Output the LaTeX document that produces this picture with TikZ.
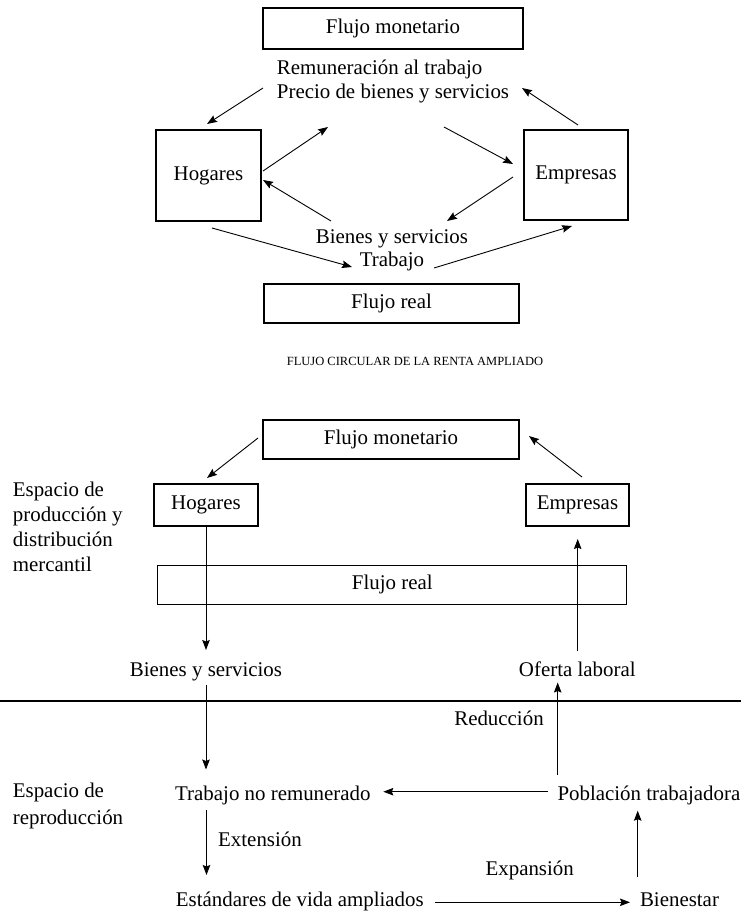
\documentclass[tikz,border=0pt]{standalone}
\usepackage{fontspec}
\setmainfont{Liberation Serif}
\usetikzlibrary{arrows.meta}
\begin{document}
\begin{tikzpicture}[x=1pt,y=-1pt,
  every node/.style={font=\fontsize{20.9}{24}\selectfont},
  box/.style={draw, line width=1.1pt, inner sep=0pt},
  lbl/.style={inner sep=0pt},
  arr/.style={-{Stealth[length=10pt,width=7.5pt,inset=1.5pt]}, line width=0.9pt},
  ln/.style={line width=0.9pt}]
\useasboundingbox (0,0) rectangle (741,911);
% ---------- top diagram ----------
\node[box, minimum width=260pt, minimum height=41pt] (fm1) at (393,28.5) {Flujo monetario};
\node[lbl, align=left] (lab1) at (393,81) {Remuneración al trabajo\\Precio de bienes y servicios};
\node[box, minimum width=105pt, minimum height=91pt] (hog1) at (208.5,175.5) {Hogares};
\node[box, minimum width=104pt, minimum height=90pt] (emp1) at (576,175) {Empresas};
\node[lbl] (lab2) at (392,238.5) {Bienes y servicios};
\node[lbl] (lab3) at (392,261.5) {Trabajo};
\node[box, minimum width=255pt, minimum height=39pt] (fr1) at (391.5,303.5) {Flujo real};
\coordinate (a1s) at (263,88);   \coordinate (a1e) at (207,124);
\coordinate (a2s) at (263,171);  \coordinate (a2e) at (328,127);
\coordinate (a3s) at (444,127);  \coordinate (a3e) at (513,164);
\coordinate (a4s) at (513,177);  \coordinate (a4e) at (447,221);
\coordinate (a5s) at (331,221);  \coordinate (a5e) at (263,180);
\coordinate (a6s) at (212,228);  \coordinate (a6e) at (352,267);
\coordinate (a7s) at (434,268);  \coordinate (a7e) at (572,226);
\coordinate (a8s) at (578,125);  \coordinate (a8e) at (522,88);
\draw[arr] (a1s) -- (a1e);
\draw[arr] (a2s) -- (a2e);
\draw[arr] (a3s) -- (a3e);
\draw[arr] (a4s) -- (a4e);
\draw[arr] (a5s) -- (a5e);
\draw[arr] (a6s) -- (a6e);
\draw[arr] (a7s) -- (a7e);
\draw[arr] (a8s) -- (a8e);
% ---------- caption ----------
\node[lbl, font=\fontsize{12.5}{15}\selectfont] (cap) at (415,361) {FLUJO CIRCULAR DE LA RENTA AMPLIADO};
% ---------- bottom diagram ----------
\node[box, minimum width=256pt, minimum height=39pt] (fm2) at (391,439.5) {Flujo monetario};
\node[box, minimum width=104pt, minimum height=42pt] (hog2) at (206,505) {Hogares};
\node[box, minimum width=103pt, minimum height=42pt] (emp2) at (577.5,505) {Empresas};
\node[box, minimum width=469pt, minimum height=39pt] (fr2) at (392.3,584.7) {Flujo real};
\node[lbl, align=left, anchor=north west, font=\fontsize{20.9}{25}\selectfont] (esp1) at (12.7,482) {Espacio de\\producción y\\distribución\\mercantil};
\node[lbl, anchor=base] (bys) at (206,676) {Bienes y servicios};
\node[lbl, anchor=base] (ofl) at (577.3,676.5) {Oferta laboral};
\node[lbl, anchor=base] (red) at (499,725.5) {Reducción};
\coordinate (hl1) at (0,700.7); \coordinate (hl2) at (741,700.7);
\draw[line width=2pt] (hl1) -- (hl2);
\node[lbl, anchor=base] (tnr) at (272.9,800.5) {Trabajo no remunerado};
\node[lbl, anchor=base] (pob) at (648.9,800.2) {Población trabajadora};
\node[lbl, align=left, anchor=north west, font=\fontsize{20.9}{26.5}\selectfont] (esp2) at (12.7,783) {Espacio de\\reproducción};
\node[lbl, anchor=base] (ext) at (260,846) {Extensión};
\node[lbl, anchor=base] (expn) at (529.7,875) {Expansión};
\node[lbl, anchor=base west] (est) at (175.7,906.7) {Estándares de vida ampliados};
\node[lbl, anchor=base] (bien) at (679.5,906.7) {Bienestar};
\coordinate (b1s) at (258,438);   \coordinate (b1e) at (207,478);
\coordinate (b2s) at (582,477);   \coordinate (b2e) at (529,436);
\coordinate (b3e) at (206,650);
\coordinate (b4s) at (206,685);   \coordinate (b4e) at (206,769.5);
\coordinate (b5s) at (577.7,651); \coordinate (b5e) at (577.7,539);
\coordinate (b6s) at (557.7,775); \coordinate (b6e) at (557.7,682.5);
\coordinate (b7s) at (547.7,791.7); \coordinate (b7e) at (383.3,791.7);
\coordinate (b8s) at (206.5,810); \coordinate (b8e) at (206.5,875);
\coordinate (b9s) at (435,902.3); \coordinate (b9e) at (630,902.3);
\coordinate (b10s) at (637.7,876.7); \coordinate (b10e) at (637.7,810.7);
\draw[arr] (b1s) -- (b1e);
\draw[arr] (b2s) -- (b2e);
\draw[arr] (hog2.south) -- (b3e);
\draw[arr] (b4s) -- (b4e);
\draw[arr] (b5s) -- (b5e);
\draw[arr] (b6s) -- (b6e);
\draw[arr] (b7s) -- (b7e);
\draw[arr] (b8s) -- (b8e);
\draw[arr] (b9s) -- (b9e);
\draw[arr] (b10s) -- (b10e);
\end{tikzpicture}
\end{document}
